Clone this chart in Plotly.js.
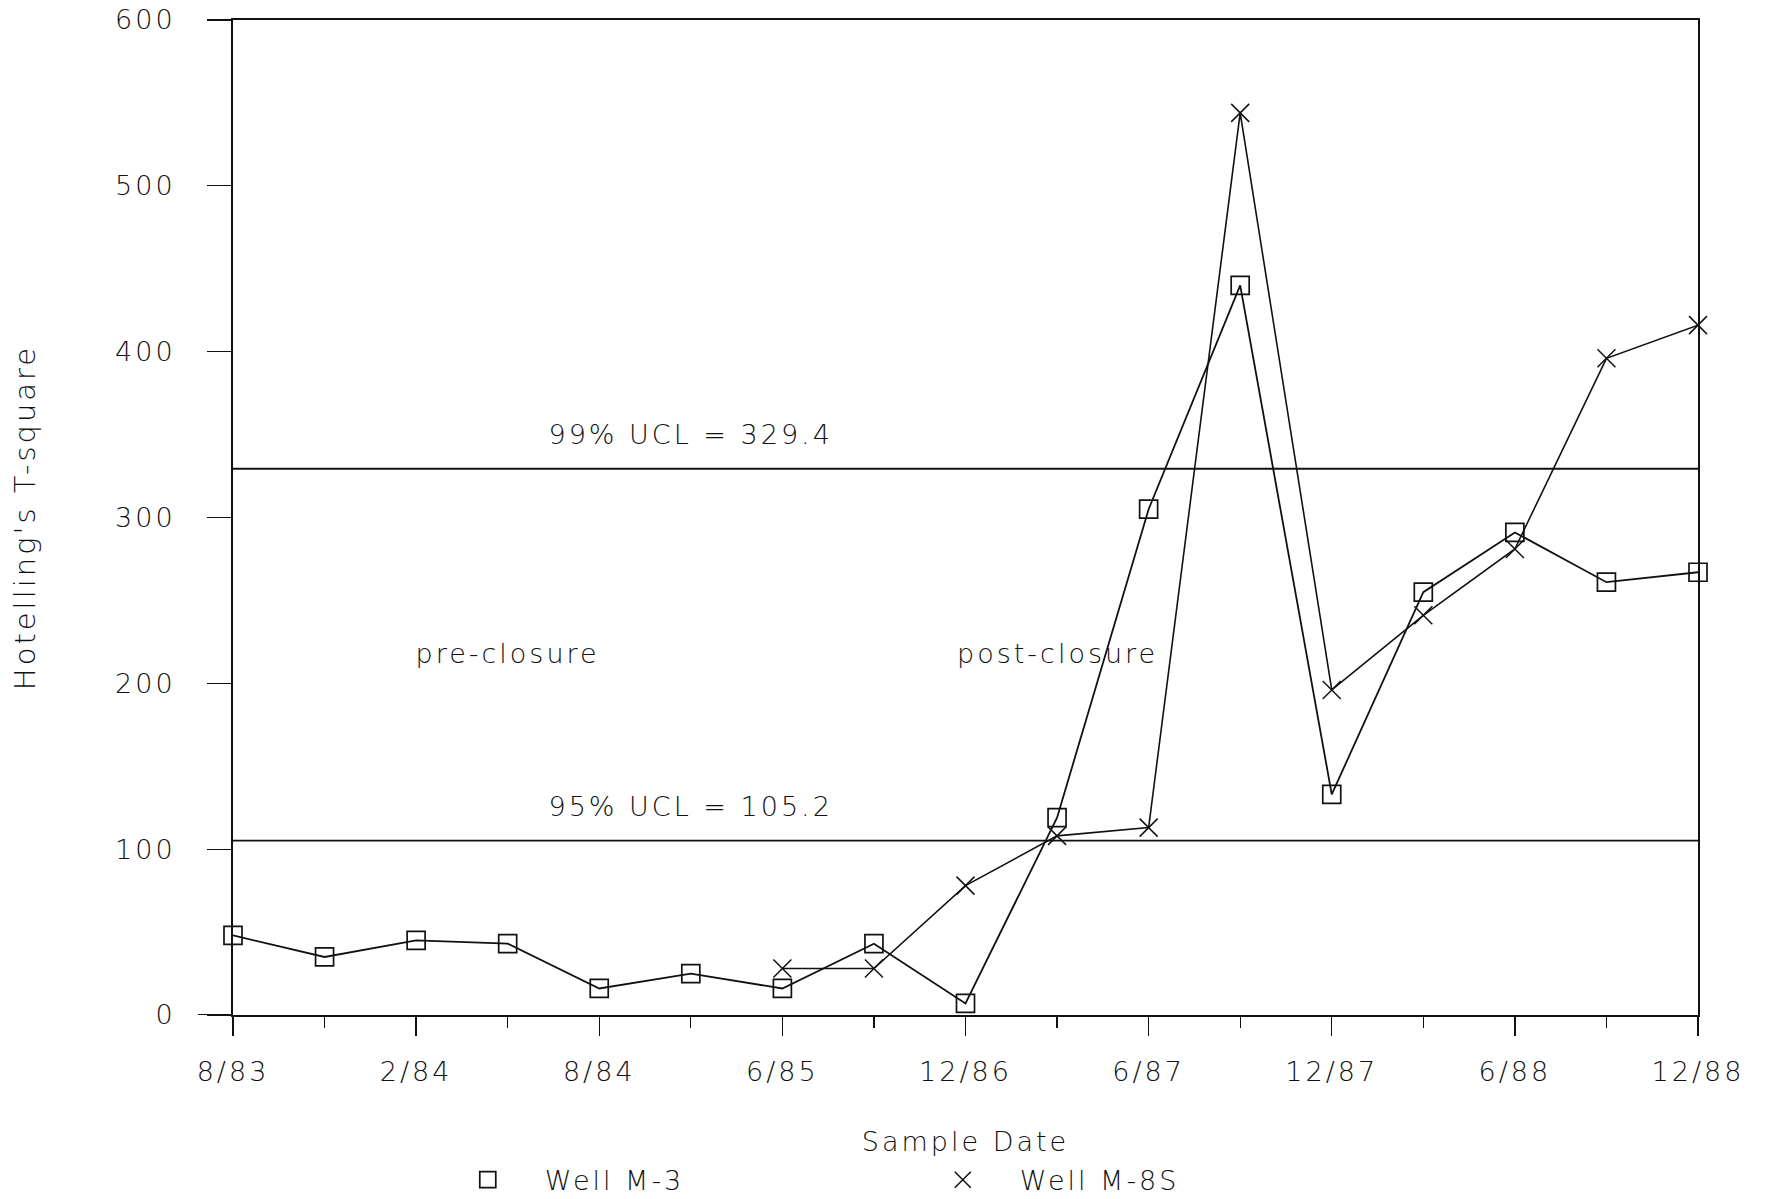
<!DOCTYPE html>
<html>
<head>
<meta charset="utf-8">
<script src="https://cdn.plot.ly/plotly-3.0.1.min.js"></script>
<style>
html,body{margin:0;padding:0;background:#fff;}
#chart{width:1767px;height:1199px;}
#chart svg text{letter-spacing:3px;}
</style>
</head>
<body>
<div id="chart"></div>
<script>
// Sample positions (17 sampling dates, labelled every other one)
const sampleIndex = [0,1,2,3,4,5,6,7,8,9,10,11,12,13,14,15,16];
const tickIndex = [0,2,4,6,8,10,12,14,16];
const tickLabels = ["8/83","2/84","8/84","6/85","12/86","6/87","12/87","6/88","12/88"];

// Hotelling's T-square values
const wellM3 = [48,35,45,43,16,25,16,43,7,119,305,440,133,255,291,261,267];
const wellM8S = [null,null,null,null,null,null,28,28,78,108,113,544,196,241,281,396,416];

// Upper control limits
const uclValues = [329.4, 105.2];
const uclLabels = ["99% UCL = 329.4", "95% UCL = 105.2"];

// Region labels
const regionLabels = ["pre-closure", "post-closure"];
const regionX = [3, 9];
const regionY = [218, 218];

const seriesNames = ["Well M-3", "Well M-8S"];

const fontFam = "DejaVu Sans, Lato, sans-serif";
const ink = "#111";
const fsz = 27;
const fw = 200;
const fnt = {family: fontFam, size: fsz, color: ink, weight: fw};

const traces = [
  {x: sampleIndex, y: wellM3, type: "scatter", mode: "lines+markers", name: seriesNames[0],
   showlegend: false, cliponaxis: false,
   line: {color: ink, width: 1.8},
   marker: {symbol: "square-open", size: 18, color: ink, line: {width: 1.7, color: ink}}},
  {x: sampleIndex, y: wellM8S, type: "scatter", mode: "lines+markers", name: seriesNames[1],
   showlegend: false, cliponaxis: false, connectgaps: false,
   line: {color: ink, width: 1.6},
   marker: {symbol: "x-thin-open", size: 18, color: ink, line: {width: 1.5, color: ink}}},
  {x: [null], y: [null], type: "scatter", mode: "markers", name: seriesNames[0],
   marker: {symbol: "square-open", size: 18, color: ink, line: {width: 1.7, color: ink}}},
  {x: [null], y: [null], type: "scatter", mode: "markers", name: seriesNames[1],
   marker: {symbol: "x-thin-open", size: 18, color: ink, line: {width: 1.5, color: ink}}}
];

const shapes = uclValues.map(v => ({
  type: "line", xref: "x", yref: "y", x0: 0, x1: 16, y0: v, y1: v,
  line: {color: ink, width: 1.8}
}));
shapes.push({type: "line", xref: "paper", yref: "y", x0: -0.024, x1: 0, y0: 0, y1: 0,
  line: {color: ink, width: 2}});

const annotations = [];
uclValues.forEach((v, i) => {
  annotations.push({x: 5, y: v, xref: "x", yref: "y", text: uclLabels[i],
    showarrow: false, yshift: 34, font: fnt});
});
regionLabels.forEach((t, i) => {
  annotations.push({x: regionX[i], y: regionY[i], xref: "x", yref: "y", text: t,
    showarrow: false, font: fnt});
});

const layout = {
  width: 1767, height: 1199,
  paper_bgcolor: "#fff", plot_bgcolor: "#fff",
  margin: {l: 233, r: 69, t: 20, b: 184, autoexpand: false},
  font: fnt,
  showlegend: true,
  legend: {orientation: "h", x: 0.135, xanchor: "left", y: -0.166, yanchor: "middle",
    entrywidth: 356, entrywidthmode: "pixels", font: fnt, itemwidth: 104},
  xaxis: {
    range: [0, 16], tickmode: "array", tickvals: tickIndex, ticktext: tickLabels,
    ticks: "outside", ticklen: 19, tickwidth: 1.3, tickcolor: ink,
    minor: {tickmode: "array", tickvals: sampleIndex, ticks: "outside", ticklen: 11, tickwidth: 1.3, tickcolor: ink},
    showline: true, linecolor: ink, linewidth: 2, mirror: true,
    showgrid: false, zeroline: false,
    ticklabelstandoff: 13,
    tickfont: fnt,
    title: {text: "Sample Date", standoff: 46, font: fnt}
  },
  yaxis: {
    range: [0, 600], tickmode: "array", tickvals: [0,100,200,300,400,500,600],
    ticks: "outside", ticklen: 24, tickwidth: 1.3, tickcolor: ink,
    showline: true, linecolor: ink, linewidth: 2, mirror: true,
    showgrid: false, zeroline: false,
    ticklabelstandoff: 26,
    tickfont: fnt,
    title: {text: "Hotelling's T-square", standoff: 80, font: {family: fontFam, size: 29, color: ink, weight: fw}}
  },
  shapes: shapes,
  annotations: annotations
};

Plotly.newPlot("chart", traces, layout, {staticPlot: true});
</script>
</body>
</html>
